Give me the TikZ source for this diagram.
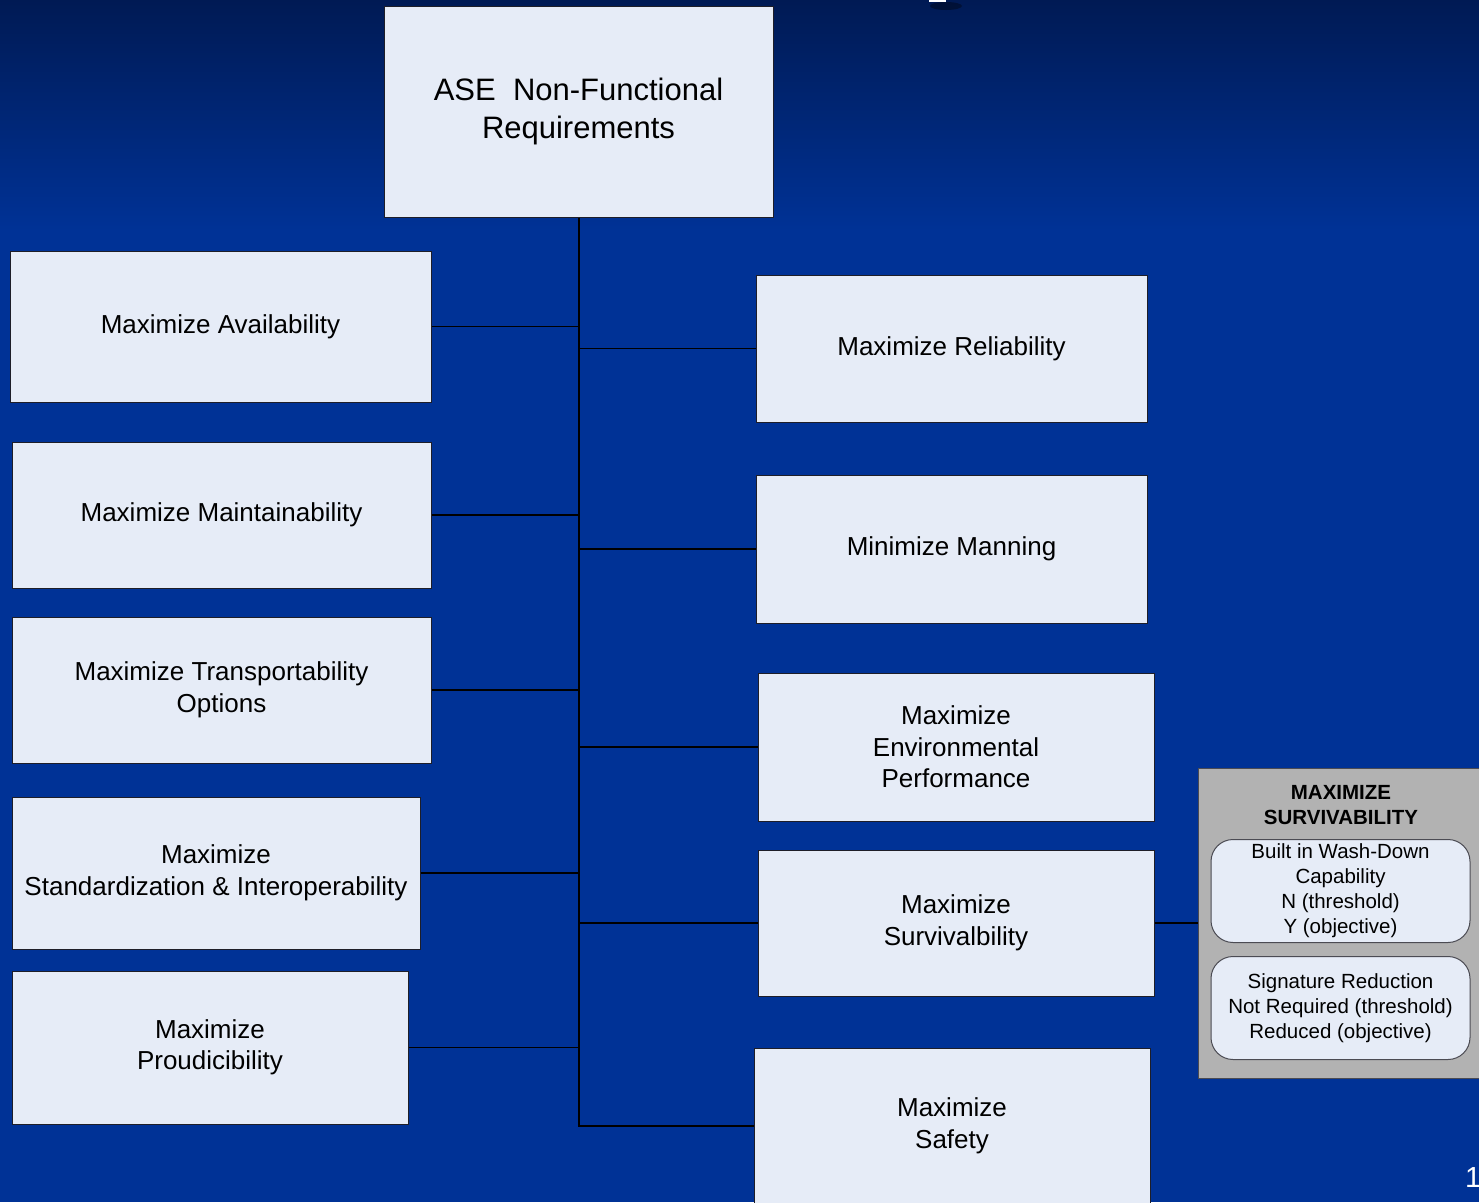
\documentclass[tikz,border=0pt]{standalone}
\usepackage{fontspec}
\setmainfont{Liberation Sans}
\definecolor{bgtop}{RGB}{0,26,84}
\definecolor{bgmain}{RGB}{0,50,150}
\definecolor{boxfill}{RGB}{230,236,247}
\definecolor{grayfill}{RGB}{178,178,178}
\definecolor{boxline}{RGB}{30,30,40}
\tikzset{
  box/.style={draw=boxline, line width=1pt, fill=boxfill, align=center, inner sep=0pt,
    font=\fontsize{26}{31.5}\selectfont, text=black},
  titlebox/.style={box, font=\fontsize{31}{38}\selectfont},
  graybox/.style={draw=boxline!80, line width=1pt, fill=grayfill, inner sep=0pt},
  rbox/.style={draw=boxline!80, line width=1pt, fill=boxfill, rounded corners=22pt, align=center,
    inner sep=0pt, font=\fontsize{20.5}{25}\selectfont},
  link/.style={draw=black, line width=1.2pt},
  trunk/.style={draw=black, line width=2pt},
}
\begin{document}
\begin{tikzpicture}[x=1pt,y=-1pt]
\useasboundingbox (0,0) rectangle (1479,1202);
\clip (0,0) rectangle (1479,1202);
% background
\fill[bgmain] (0,0) rectangle (1479,1202);
\shade[top color=bgtop, bottom color=bgmain] (0,0) rectangle (1479,230);
% fragment at top edge
\fill[black, opacity=0.35] (946,6) ellipse (16pt and 4pt);
\fill[white] (929,-2) rectangle (946,1.5);

% nodes
\node[titlebox, minimum width=389pt, minimum height=211pt] (root) at (578.5,111.5) {ASE\ \ Non-Functional\\Requirements};

\node[box, minimum width=421pt, minimum height=151pt] (avail) at (220.5,326.5) {Maximize Availability};
\node[box, minimum width=419pt, minimum height=146pt] (maint) at (221.5,515) {Maximize Maintainability};
\node[box, minimum width=419pt, minimum height=146pt] (trans) at (221.5,690) {Maximize Transportability\\Options};
\node[box, minimum width=408pt, minimum height=152pt] (stand) at (216,873) {Maximize\\Standardization \& Interoperability};
\node[box, minimum width=396pt, minimum height=153pt] (prod) at (210,1047.5) {Maximize\\Proudicibility};

\node[box, minimum width=391pt, minimum height=147pt] (reli) at (951.5,348.5) {Maximize Reliability};
\node[box, minimum width=391pt, minimum height=148pt] (mann) at (951.5,549) {Minimize Manning};
\node[box, minimum width=396pt, minimum height=148pt] (env) at (956,747) {Maximize\\Environmental\\Performance};
\node[box, minimum width=396pt, minimum height=146pt] (surv) at (956,923) {Maximize\\Survivalbility};
\node[box, minimum width=396pt, minimum height=156pt] (safe) at (952,1126) {Maximize\\Safety};

% survivability detail panel
\node[graybox, minimum width=290pt, minimum height=310pt] (gray) at (1343,923) {};
\node[font=\bfseries\fontsize{20.5}{25}\selectfont, align=center, inner sep=0pt] (grayhead) at (1341,805.5) {MAXIMIZE\\SURVIVABILITY};
\node[rbox, minimum width=259pt, minimum height=103pt] (wash) at (1340.5,891) {Built in Wash-Down\\Capability\\N (threshold)\\Y (objective)};
\node[rbox, minimum width=259pt, minimum height=103pt] (sig) at (1340.5,1008) {Signature Reduction\\Not Required (threshold)\\Reduced (objective)};

% page number
\node[anchor=west, text=white, font=\fontsize{29}{34}\selectfont, inner sep=0pt] (pg) at (1465,1178) {1};

% connectors
\draw[trunk] (root.south) |- (safe.west);
\foreach \n in {avail,maint,trans,stand,prod}{
  \draw[link] (\n.east) -- (\n.east -| root.south);
}
\foreach \n in {reli,mann,env,surv}{
  \draw[link] (\n.west) -- (\n.west -| root.south);
}
\draw[trunk] (surv.east) -- (gray.west);
\end{tikzpicture}
\end{document}
